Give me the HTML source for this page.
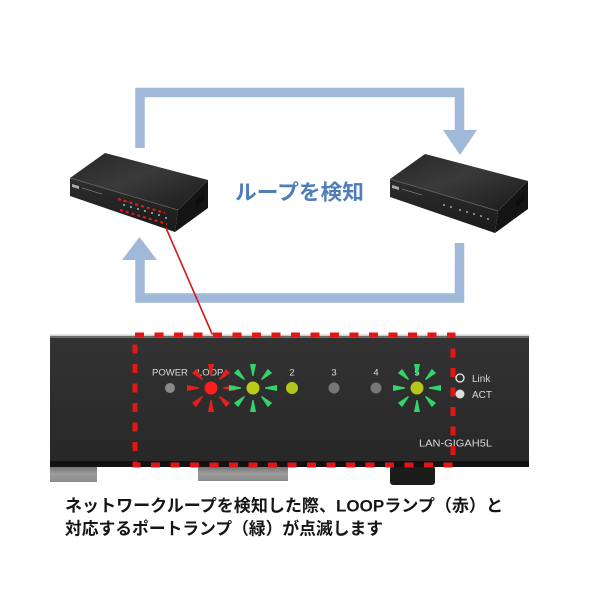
<!DOCTYPE html>
<html><head><meta charset="utf-8"><style>
html,body{margin:0;padding:0;background:#fff;}
svg{display:block}
</style></head><body>
<svg width="600" height="600" viewBox="0 0 600 600" xmlns="http://www.w3.org/2000/svg">
<defs>
<linearGradient id="topf" x1="0" y1="0" x2="1" y2="1">
 <stop offset="0" stop-color="#262626"/><stop offset="0.45" stop-color="#3a3a3a"/><stop offset="1" stop-color="#1a1a1a"/>
</linearGradient>
<linearGradient id="frontf" x1="0" y1="0" x2="0" y2="1">
 <stop offset="0" stop-color="#2e2e2e"/><stop offset="1" stop-color="#1a1a1a"/>
</linearGradient>
<linearGradient id="pan" x1="0" y1="0" x2="0" y2="1">
 <stop offset="0" stop-color="#333"/><stop offset="1" stop-color="#272727"/>
</linearGradient>
<linearGradient id="footg" x1="0" y1="0" x2="0" y2="1">
 <stop offset="0" stop-color="#6f6f6f"/><stop offset="0.5" stop-color="#9c9c9c"/><stop offset="1" stop-color="#8a8a8a"/>
</linearGradient>
<g id="rays">
 <polygon points="-3,-24 3,-24 0.6,-12 -0.6,-12"/>
 <polygon points="-3,-24 3,-24 0.6,-12 -0.6,-12" transform="rotate(45)"/>
 <polygon points="-3,-24 3,-24 0.6,-12 -0.6,-12" transform="rotate(90)"/>
 <polygon points="-3,-24 3,-24 0.6,-12 -0.6,-12" transform="rotate(135)"/>
 <polygon points="-3,-24 3,-24 0.6,-12 -0.6,-12" transform="rotate(180)"/>
 <polygon points="-3,-24 3,-24 0.6,-12 -0.6,-12" transform="rotate(225)"/>
 <polygon points="-3,-24 3,-24 0.6,-12 -0.6,-12" transform="rotate(270)"/>
 <polygon points="-3,-24 3,-24 0.6,-12 -0.6,-12" transform="rotate(315)"/>
</g>
<g id="sw">
 <polygon points="105,153 208,180 178,210 70,178" fill="url(#topf)"/>
 <polygon points="70,178 178,210 175,232 70,196" fill="url(#frontf)"/>
 <polygon points="208,180 208,208 175,232 178,210" fill="#141414"/>
 <line x1="70" y1="178" x2="178" y2="210" stroke="#666" stroke-width="0.8"/>
 <line x1="178" y1="210" x2="208" y2="180" stroke="#444" stroke-width="0.6"/>
 <polygon points="72,184 79,186 79,189 72,187" fill="#aaa"/>
 <line x1="82" y1="188" x2="102" y2="194" stroke="#777" stroke-width="0.8"/>
 <polygon points="196,200 204,194 204,200 196,206" fill="#0c0c0c"/>
</g>
</defs>
<rect width="600" height="600" fill="#fff"/>

<!-- blue loop arrows -->
<g fill="none" stroke="#a1b9d9" stroke-width="9.5">
 <polyline points="140,148 140,92.5 459.5,92.5 459.5,131"/>
 <polyline points="140,259 140,298 459.5,298 459.5,243"/>
</g>
<polygon points="443,130 477,130 460,155" fill="#a1b9d9"/>
<polygon points="122,260 157,260 139.5,237" fill="#a1b9d9"/>

<text x="235" y="199.5" font-family="Liberation Sans, Noto Sans CJK JP, sans-serif" font-size="21" font-weight="bold" fill="#4f7db9" textLength="129" lengthAdjust="spacingAndGlyphs">ループを検知</text>

<!-- switches -->
<use href="#sw"/>
<g fill="#e81818">
 <polyline points="118,199 165,213" fill="none" stroke="#e41a1a" stroke-width="2" stroke-dasharray="3 3"/>
 <polyline points="120,210 167,224" fill="none" stroke="#e41a1a" stroke-width="2" stroke-dasharray="3 3"/>
</g>
<g fill="#9fd">
 <circle cx="124" cy="205" r="0.9"/><circle cx="131" cy="207" r="0.9"/><circle cx="138" cy="209" r="0.9"/><circle cx="145" cy="211" r="0.9"/><circle cx="152" cy="213" r="0.9"/><circle cx="159" cy="215" r="0.9"/><circle cx="166" cy="218" r="0.9"/>
</g>
<g transform="translate(320,1)">
 <use href="#sw"/>
 <g fill="#ccc">
  <circle cx="124" cy="204" r="0.9"/><circle cx="131" cy="206" r="0.9"/><circle cx="140" cy="209" r="0.9"/><circle cx="147" cy="211" r="0.9"/><circle cx="154" cy="213" r="0.9"/><circle cx="161" cy="215" r="0.9"/><circle cx="168" cy="218" r="0.9"/>
 </g>
</g>

<!-- red connector -->
<line x1="166" y1="228" x2="213" y2="336" stroke="#d41818" stroke-width="1.6"/>

<!-- feet -->
<rect x="50" y="466" width="47" height="16" fill="url(#footg)"/>
<rect x="198" y="466" width="90" height="15" fill="url(#footg)"/>
<rect x="390" y="466" width="45" height="19" rx="3" fill="#1c1c1c"/>

<!-- panel -->
<rect x="50" y="335" width="479" height="132" rx="2" fill="url(#pan)"/>
<rect x="50" y="334.5" width="479" height="1.5" fill="#d0d0d0"/>
<rect x="50" y="336" width="479" height="2" fill="#6a6a6a"/>
<rect x="50" y="461" width="479" height="6" fill="#121212"/>

<!-- labels -->
<g font-family="Liberation Sans, sans-serif" fill="#d8d8d8" font-size="9.5">
 <text x="152" y="375.5">POWER</text>
 <text x="197" y="375.5">LOOP</text>
 <text x="292" y="375.5" text-anchor="middle">2</text>
 <text x="334" y="375.5" text-anchor="middle">3</text>
 <text x="376" y="375.5" text-anchor="middle">4</text>
 <text x="417" y="375.5" text-anchor="middle">5</text>
 <text x="472" y="382" font-size="10">Link</text>
 <text x="472" y="398" font-size="10">ACT</text>
 <text x="419" y="446.5" font-size="10.5" textLength="73" lengthAdjust="spacingAndGlyphs">LAN-GIGAH5L</text>
</g>

<!-- rays -->
<use href="#rays" x="211" y="388" fill="#e3201e"/>
<use href="#rays" x="253" y="388" fill="#34d46c"/>
<use href="#rays" x="417" y="388" fill="#34d46c"/>

<!-- LEDs -->
<circle cx="170" cy="388" r="5" fill="#8a8a8a"/>
<circle cx="211" cy="388" r="6.5" fill="#ff1c1c"/>
<circle cx="253" cy="388" r="6.5" fill="#b8cc18"/>
<circle cx="292" cy="388" r="6" fill="#b2c61a"/>
<circle cx="334" cy="388" r="5.5" fill="#777"/>
<circle cx="376" cy="388" r="5.5" fill="#777"/>
<circle cx="417" cy="388" r="6.5" fill="#b5c81a"/>
<circle cx="460" cy="378" r="4" fill="none" stroke="#eee" stroke-width="1.3"/>
<circle cx="460" cy="394" r="4.5" fill="#ddd"/>

<!-- red dashed frame -->
<rect x="135" y="335" width="318" height="130" fill="none" stroke="#e41515" stroke-width="5" stroke-dasharray="9 10.5"/>

<!-- caption -->
<g font-family="Liberation Sans, Noto Sans CJK JP, sans-serif" font-size="17" font-weight="bold" fill="#151515">
 <text x="65" y="511.5" textLength="438" lengthAdjust="spacingAndGlyphs">ネットワークループを検知した際、LOOPランプ（赤）と</text>
 <text x="65" y="534.5" textLength="318" lengthAdjust="spacingAndGlyphs">対応するポートランプ（緑）が点滅します</text>
</g>
</svg>
</body></html>
